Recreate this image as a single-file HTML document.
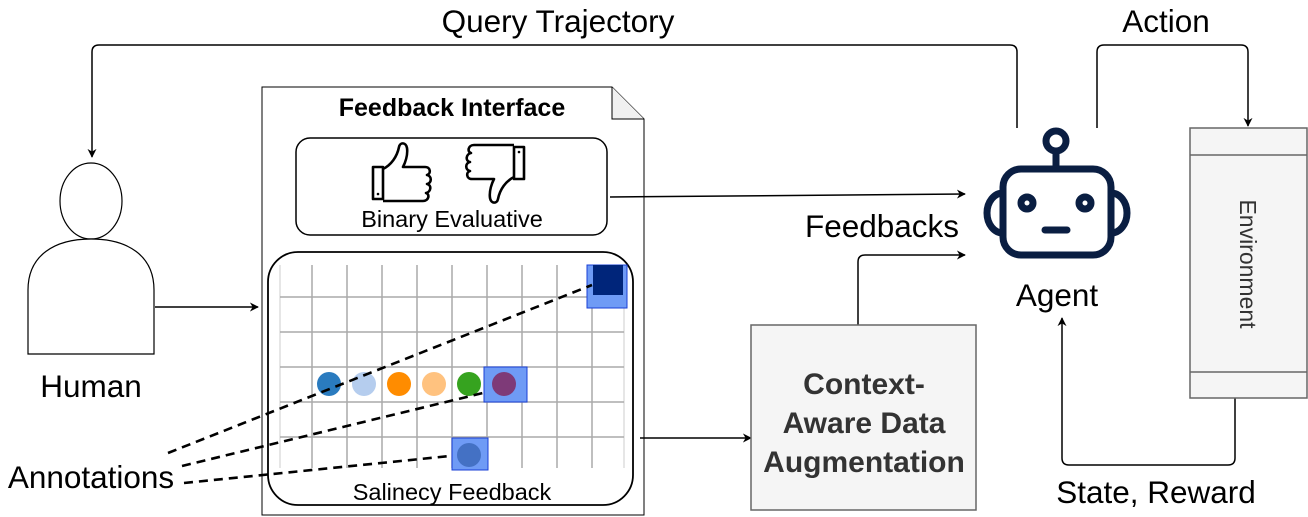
<!DOCTYPE html>
<html><head><meta charset="utf-8"><style>
body{margin:0;background:#fff}
svg{display:block;font-family:"Liberation Sans",Arial,sans-serif}
</style></head><body>
<svg width="1308" height="517" viewBox="0 0 1308 517" xmlns="http://www.w3.org/2000/svg">
<defs>
<marker id="ar" viewBox="0 0 10 10" refX="9" refY="5" markerWidth="9" markerHeight="9" markerUnits="userSpaceOnUse" orient="auto"><path d="M0,0 L10,5 L0,10 L3,5 z" fill="#000"/></marker>
<g id="thumb">
<path d="M0,22 h10 v32 h-10 z M10,24 C18,20 24,12 26,2 C27,-3 33,-3 34,3 C35,10 32,18 30,22 L52,22 C58,22 58,29 54,30 C59,31 59,38 54,39 C59,40 58,47 53,48 C57,49 56,56 50,56 L10,56" fill="none" stroke="#000" stroke-width="2.6" stroke-linejoin="round"/>
<circle cx="5" cy="49" r="1.3" fill="#000"/>
</g>
</defs>
<path d="M1017,128 V52 Q1017,45 1010,45 H99 Q92,45 92,52 V157" fill="none" stroke="#000" stroke-width="1.5" marker-end="url(#ar)"/>
<path d="M1097,128 V52 Q1097,45 1104,45 H1241 Q1248,45 1248,52 V126" fill="none" stroke="#000" stroke-width="1.5" marker-end="url(#ar)"/>
<path d="M1235,398 V458 Q1235,465 1228,465 H1069 Q1062,465 1062,458 V318" fill="none" stroke="#000" stroke-width="1.5" marker-end="url(#ar)"/>
<path d="M858,325 V262 Q858,255 865,255 H965" fill="none" stroke="#000" stroke-width="1.5" marker-end="url(#ar)"/>
<path d="M155,307 H258" fill="none" stroke="#000" stroke-width="1.5" marker-end="url(#ar)"/>
<text x="558" y="32" font-size="31.5" text-anchor="middle">Query Trajectory</text>
<text x="1166" y="32" font-size="31.5" text-anchor="middle">Action</text>
<text x="1156" y="503" font-size="31.5" text-anchor="middle">State, Reward</text>
<text x="882" y="237" font-size="31.5" text-anchor="middle">Feedbacks</text>
<ellipse cx="91" cy="201" rx="31" ry="38" fill="#fff" stroke="#000" stroke-width="1.2"/>
<path d="M28,354 V290 C28,255 55,239 91,239 C127,239 154,255 154,290 V354 Z" fill="#fff" stroke="#000" stroke-width="1.2"/>
<text x="91" y="397" font-size="31.5" text-anchor="middle">Human</text>
<path d="M262,87 H612 L644,119 V515 H262 Z" fill="#fff" stroke="#000" stroke-width="1"/>
<path d="M612,87 V119 H644" fill="#f0f0f0" stroke="#000" stroke-width="1"/>
<path d="M610,197 L965,194" fill="none" stroke="#000" stroke-width="1.5" marker-end="url(#ar)"/>
<path d="M640,438 H751" fill="none" stroke="#000" stroke-width="1.5" marker-end="url(#ar)"/>
<text x="452" y="116" font-size="25" font-weight="bold" text-anchor="middle">Feedback Interface</text>
<rect x="296" y="138" width="311" height="97" rx="14" fill="#fff" stroke="#000" stroke-width="1.5"/>
<use href="#thumb" transform="translate(373,145)"/>
<use href="#thumb" transform="translate(524,201) rotate(180)"/>
<text x="452" y="227" font-size="23.5" text-anchor="middle">Binary Evaluative</text>
<rect x="268" y="252" width="365" height="253" rx="30" fill="#fff" stroke="#000" stroke-width="1.8"/>
<g stroke="#aaa" stroke-width="1.5">
<line x1="280" y1="265" x2="280" y2="468" stroke="#ddd"/>
<line x1="312" y1="265" x2="312" y2="468"/><line x1="347" y1="265" x2="347" y2="468"/><line x1="382" y1="265" x2="382" y2="468"/><line x1="417" y1="265" x2="417" y2="468"/><line x1="452" y1="265" x2="452" y2="468"/><line x1="487" y1="265" x2="487" y2="468"/><line x1="522" y1="265" x2="522" y2="468"/><line x1="557" y1="265" x2="557" y2="468"/><line x1="592" y1="265" x2="592" y2="468"/>
<line x1="624" y1="265" x2="624" y2="468" stroke="#ddd"/>
<line x1="280" y1="297" x2="624" y2="297"/><line x1="280" y1="332" x2="624" y2="332"/><line x1="280" y1="367" x2="624" y2="367"/><line x1="280" y1="402" x2="624" y2="402"/><line x1="280" y1="437" x2="624" y2="437"/>
</g>
<circle cx="329" cy="384" r="12" fill="#2a7bbf"/>
<circle cx="364" cy="384" r="12" fill="#b5cdee"/>
<circle cx="399" cy="384" r="12" fill="#ff8c00"/>
<circle cx="434" cy="384" r="12" fill="#ffc27f"/>
<circle cx="469" cy="384" r="12" fill="#36a31f"/>
<rect x="587" y="265" width="40" height="43" fill="#6f9bf5" stroke="#1a3fd6" stroke-width="1"/>
<rect x="593" y="265" width="30" height="30" fill="#00257a"/>
<rect x="484" y="367" width="43" height="35" fill="#6f9bf5" stroke="#1a3fd6" stroke-width="1"/>
<circle cx="504" cy="384" r="12" fill="#7e3a78"/>
<rect x="452" y="438" width="36" height="32" fill="#6f9bf5" stroke="#1a3fd6" stroke-width="1"/>
<circle cx="469" cy="455" r="12" fill="#4471c4"/>
<g stroke="#000" stroke-width="2.6" stroke-dasharray="9,6" fill="none">
<line x1="168" y1="453" x2="592" y2="285"/>
<line x1="182" y1="466" x2="483" y2="393"/>
<line x1="184" y1="483" x2="450" y2="456"/>
</g>
<text x="452" y="500" font-size="23.5" text-anchor="middle">Salinecy Feedback</text>
<text x="91" y="488" font-size="31.5" text-anchor="middle">Annotations</text>
<rect x="751" y="325" width="225" height="185" fill="#f5f5f5" stroke="#666" stroke-width="1.5"/>
<g font-size="30" font-weight="bold" fill="#333" text-anchor="middle">
<text x="864" y="394">Context-</text><text x="864" y="433">Aware Data</text><text x="864" y="472">Augmentation</text>
</g>
<g stroke="#0a1e42" stroke-width="7" fill="none">
<circle cx="1056" cy="141" r="10"/>
<line x1="1056" y1="151" x2="1056" y2="167"/>
<rect x="1003" y="169" width="108" height="86" rx="18"/>
<path d="M1003,193 A16,20 0 0 0 1003,233"/>
<path d="M1111,193 A16,20 0 0 1 1111,233"/>
<circle cx="1027" cy="203" r="6"/>
<circle cx="1085" cy="203" r="6"/>
<line x1="1045" y1="230" x2="1067" y2="230" stroke-linecap="round"/>
</g>
<text x="1057" y="306" font-size="31.5" text-anchor="middle">Agent</text>
<rect x="1190" y="128" width="117" height="270" fill="#f5f5f5" stroke="#666" stroke-width="1.5"/>
<line x1="1190" y1="155" x2="1307" y2="155" stroke="#666" stroke-width="1.5"/>
<line x1="1190" y1="372" x2="1307" y2="372" stroke="#666" stroke-width="1.5"/>
<text transform="translate(1240,264) rotate(90)" font-size="23" fill="#333" text-anchor="middle">Environment</text>
</svg>
</body></html>
